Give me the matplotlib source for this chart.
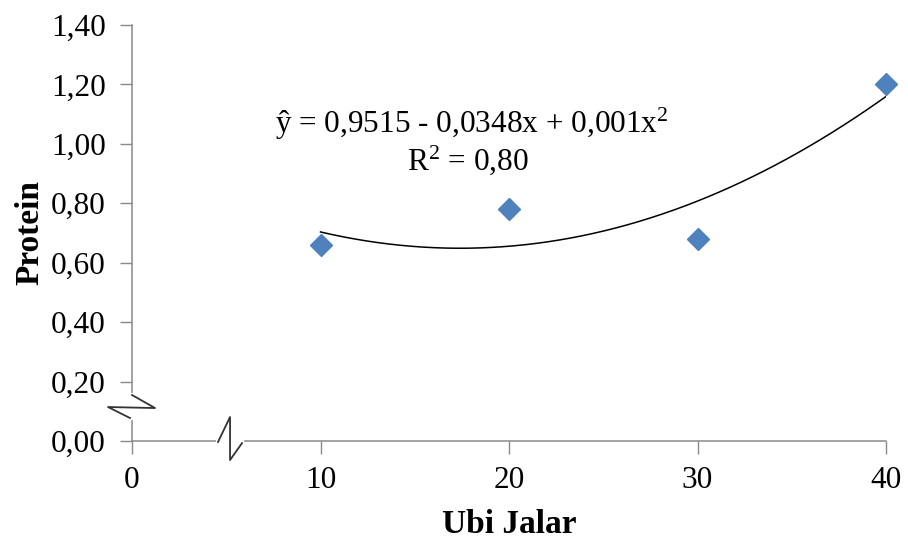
import numpy as np
import matplotlib
matplotlib.use("Agg")
import matplotlib.pyplot as plt

plt.rcParams['font.family'] = ['Liberation Serif', 'DejaVu Serif']
plt.rcParams['mathtext.fontset'] = 'custom'
plt.rcParams['mathtext.rm'] = 'Liberation Serif'
plt.rcParams['mathtext.it'] = 'Liberation Serif:italic'

# data
ubi_jalar = [10, 20, 30, 40]
protein = [0.66, 0.78, 0.68, 1.20]
# trendline shown on the chart: y = c0 + c1*x + c2*x^2
coef = [0.9515, -0.0348, 0.001]
x_ticks = [0, 10, 20, 30, 40]
y_ticks = [0.0, 0.2, 0.4, 0.6, 0.8, 1.0, 1.2, 1.4]

axis_col = "#898989"
marker_col = "#4F81BD"

fig = plt.figure(figsize=(9.08, 5.41), dpi=100)
ax = fig.add_axes([0.1454, 0.1848, 0.8304, 0.769])

xs = np.linspace(min(ubi_jalar), max(ubi_jalar), 200)
ys = coef[0] + coef[1] * xs + coef[2] * xs ** 2
ax.plot(xs, ys, color="black", lw=1.1, zorder=2)
ax.plot(ubi_jalar, protein, linestyle="none", marker="D", markersize=11,
        color=marker_col, markeredgecolor=marker_col, clip_on=False, zorder=3)

ax.set_xlim(0, 40)
ax.set_ylim(0, 1.4)
ax.set_xticks(x_ticks)
ax.set_yticks(y_ticks)
ax.set_yticklabels([f"{v:.2f}".replace(".", ",") for v in y_ticks])
ax.tick_params(axis="both", direction="out", length=9, width=1, color=axis_col,
               labelsize=22.5)
ax.tick_params(axis="y", pad=10)
ax.tick_params(axis="x", pad=9)

for s in ["top", "right"]:
    ax.spines[s].set_visible(False)
for s in ["left", "bottom"]:
    ax.spines[s].set_color(axis_col)
    ax.spines[s].set_linewidth(1.1)

ax.set_xlabel("Ubi Jalar", fontsize=24, fontweight="bold", labelpad=10)
ax.set_ylabel("Protein", fontsize=24, fontweight="bold", labelpad=4)

ax.text(18.0, 1.067, r"ŷ = 0,9515 - 0,0348x + 0,001x$^{2}$", fontsize=22.5,
        ha="center", va="center")
ax.text(17.8, 0.946, r"R$^{2}$ = 0,80", fontsize=22.5, ha="center", va="center")

# axis break marks
tr = ax.transAxes
ax.plot([0, 0], [0.055, 0.111], color="white", lw=3, transform=tr, clip_on=False, zorder=4)
ax.plot([0.0, 0.0305, -0.0318, -0.0027], [0.1106, 0.0793, 0.0817, 0.0553],
        color="#333333", lw=1.3, transform=tr, clip_on=False, zorder=5)
ax.plot([0.114, 0.146], [0, 0], color="white", lw=3, transform=tr, clip_on=False, zorder=4)
ax.plot([0.114, 0.130, 0.130, 0.1459], [-0.0024, 0.0577, -0.0457, -0.005],
        color="#333333", lw=1.3, transform=tr, clip_on=False, zorder=5)

fig.savefig("out.png", dpi=100)
